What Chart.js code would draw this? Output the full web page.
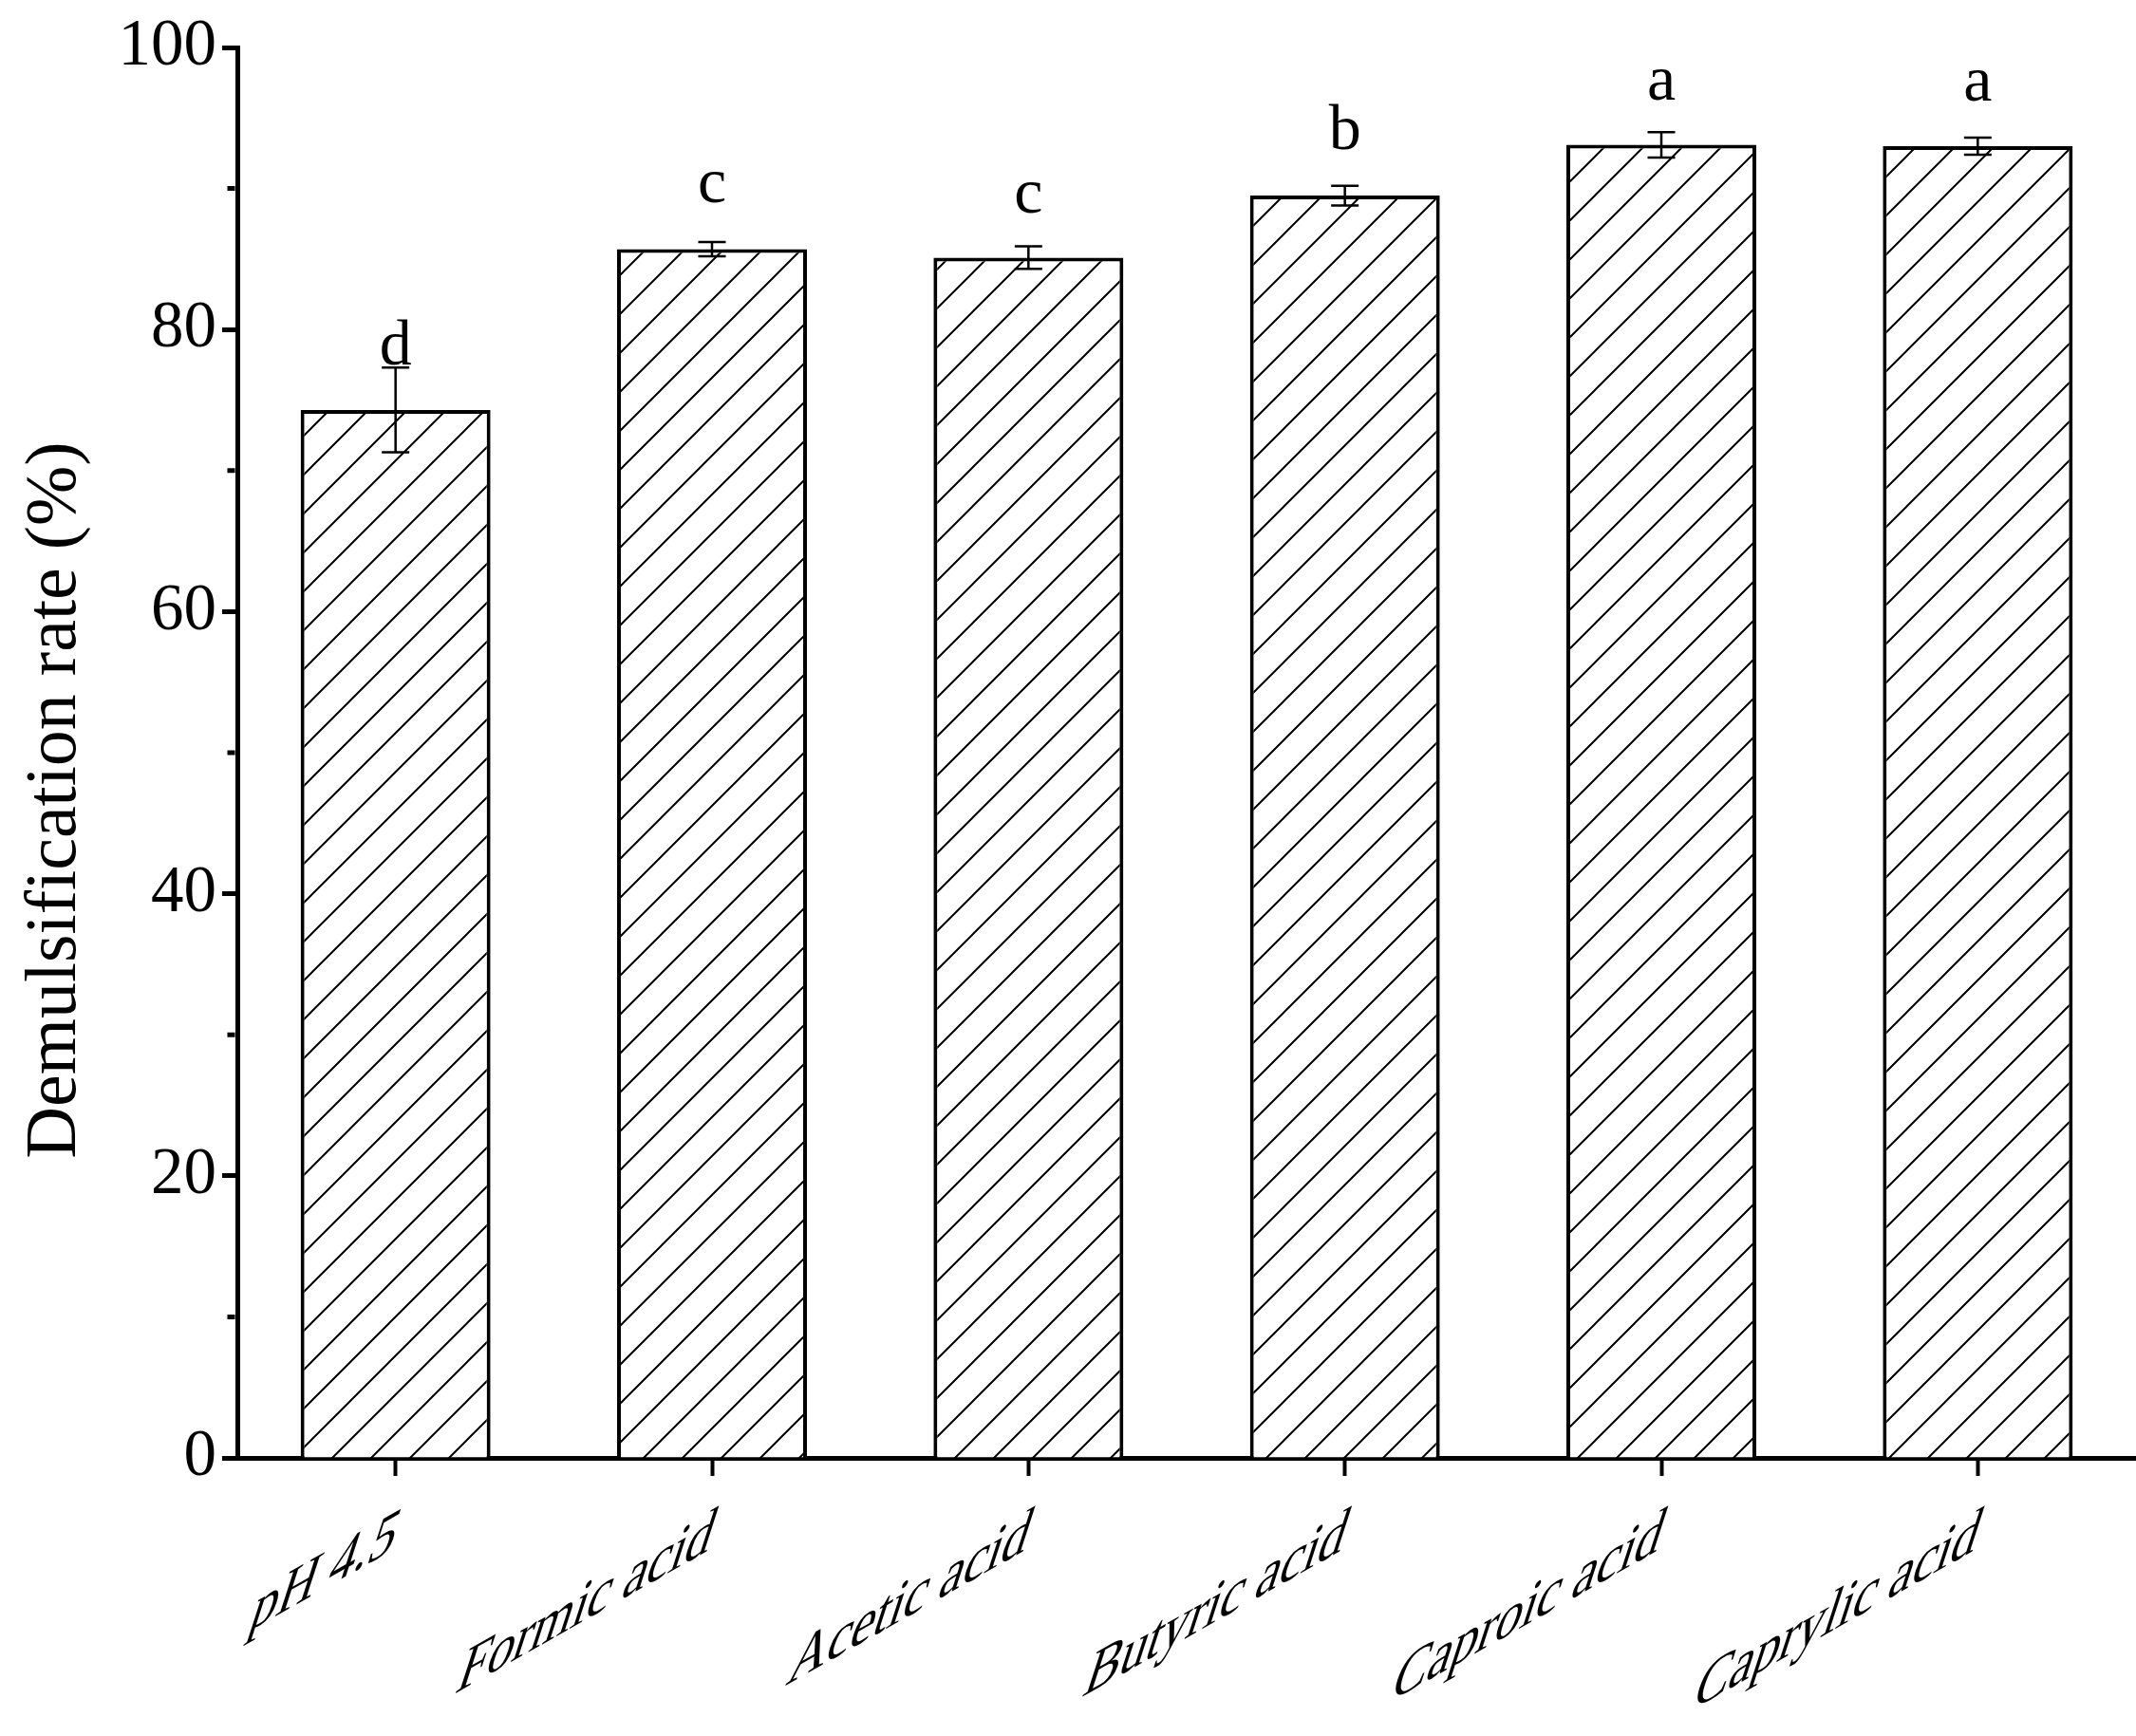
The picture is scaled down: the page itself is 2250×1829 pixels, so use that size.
<!DOCTYPE html>
<html>
<head>
<meta charset="utf-8">
<script src="https://cdn.jsdelivr.net/npm/chart.js@4.4.0/dist/chart.umd.min.js"></script>
<style>
html,body{margin:0;padding:0;background:#fff}
#wrap{width:2250px;height:1829px}
</style>
</head>
<body>
<div id="wrap"><canvas id="c" width="2250" height="1829"></canvas></div>
<script>
const categories = ['pH 4.5', 'Formic acid', 'Acetic acid', 'Butyric acid', 'Caproic acid', 'Caprylic acid'];
const rates = [74.3, 85.7, 85.1, 89.5, 93.1, 93.0];
const errors = [3.0, 0.5, 0.8, 0.7, 0.9, 0.6];
const letters = ['d', 'c', 'c', 'b', 'a', 'a'];
const letterLevels = [77.5, 89.0, 88.3, 92.8, 96.3, 96.2];
const yMajorTicks = [0, 20, 40, 60, 80, 100];
const yMinorTicks = [10, 30, 50, 70, 90];
const yTitle = 'Demulsification rate (%)';

const SERIF = "'Liberation Serif','Times New Roman',serif";

function makeHatch() {
  const s = 41;
  const cv = document.createElement('canvas');
  cv.width = s; cv.height = s;
  const g = cv.getContext('2d');
  g.fillStyle = '#fff';
  g.fillRect(0, 0, s, s);
  g.strokeStyle = '#000';
  g.lineWidth = 2;
  g.beginPath();
  for (const o of [-s, 0, s]) {
    g.moveTo(o - 3, s + 3);
    g.lineTo(o + s + 3, -3);
  }
  g.stroke();
  return g.createPattern(cv, 'repeat');
}

const decorPlugin = {
  id: 'decor',
  afterDatasetsDraw(chart) {
    const ctx = chart.ctx;
    const y = chart.scales.y;
    const meta = chart.getDatasetMeta(0);
    ctx.save();
    ctx.strokeStyle = '#000';
    ctx.lineWidth = 2.5;
    meta.data.forEach((bar, i) => {
      const yt = y.getPixelForValue(rates[i] + errors[i]);
      const yb = y.getPixelForValue(rates[i] - errors[i]);
      const x = bar.x;
      const cap = 14.5;
      ctx.beginPath();
      ctx.moveTo(x, yt); ctx.lineTo(x, yb);
      ctx.moveTo(x - cap, yt); ctx.lineTo(x + cap, yt);
      ctx.moveTo(x - cap, yb); ctx.lineTo(x + cap, yb);
      ctx.stroke();
    });
    ctx.fillStyle = '#000';
    ctx.font = '68px ' + SERIF;
    ctx.textAlign = 'center';
    ctx.textBaseline = 'alphabetic';
    meta.data.forEach((bar, i) => {
      ctx.fillText(letters[i], bar.x, y.getPixelForValue(letterLevels[i]));
    });
    ctx.restore();
  },
  afterDraw(chart) {
    const ctx = chart.ctx;
    const y = chart.scales.y;
    const x = chart.scales.x;
    ctx.save();
    ctx.strokeStyle = '#000';
    ctx.lineWidth = 5;
    ctx.beginPath();
    const x0 = y.right - 2.5;
    yMinorTicks.forEach(v => {
      const py = y.getPixelForValue(v);
      ctx.moveTo(x0, py); ctx.lineTo(x0 - 8, py);
    });
    ctx.stroke();
    ctx.fillStyle = '#000';
    ctx.font = '62px ' + SERIF;
    ctx.textAlign = 'right';
    ctx.textBaseline = 'alphabetic';
    const th = 29.5 * Math.PI / 180, ph = 72 * Math.PI / 180;
    const s1 = 1.03, s2 = 1.22;
    categories.forEach((lab, i) => {
      const px = x.getPixelForTick(i);
      ctx.save();
      ctx.translate(px - 5, x.top + 98);
      ctx.transform(s1 * Math.cos(th), -s1 * Math.sin(th), -s2 * Math.cos(ph), s2 * Math.sin(ph), 0, 0);
      ctx.fillText(lab, 0, 0);
      ctx.restore();
    });
    ctx.save();
    ctx.font = '76px ' + SERIF;
    ctx.textAlign = 'center';
    ctx.textBaseline = 'middle';
    const ca = chart.chartArea;
    ctx.translate(59, ca.top + ca.height * 0.5337);
    ctx.rotate(-Math.PI / 2);
    ctx.fillText(yTitle, 0, 0);
    ctx.restore();
    ctx.restore();
  }
};

new Chart(document.getElementById('c'), {
  type: 'bar',
  data: {
    labels: categories,
    datasets: [{
      data: rates,
      backgroundColor: makeHatch(),
      borderColor: '#000',
      borderWidth: 4,
      borderSkipped: 'start',
      barPercentage: 0.6,
      categoryPercentage: 1.0
    }]
  },
  options: {
    responsive: false,
    animation: false,
    layout: { padding: { top: 50, right: 0, bottom: 0, left: 0 } },
    plugins: { legend: { display: false }, tooltip: { enabled: false }, title: { display: false } },
    scales: {
      x: {
        type: 'category',
        offset: true,
        grid: { display: true, drawOnChartArea: false, drawTicks: true, tickLength: 19, tickWidth: 4, tickColor: '#000', offset: false },
        border: { display: true, width: 5, color: '#000' },
        ticks: { display: false },
        afterFit(scale) { scale.height = 293; }
      },
      y: {
        min: 0,
        max: 100,
        grid: { display: true, drawOnChartArea: false, drawTicks: true, tickLength: 16, tickWidth: 5, tickColor: '#000' },
        border: { display: true, width: 5, color: '#000' },
        ticks: { color: '#000', font: { family: SERIF, size: 69 }, padding: 6 },
        afterBuildTicks(scale) { scale.ticks = yMajorTicks.map(v => ({ value: v })); },
        afterFit(scale) { scale.width = 250; }
      }
    }
  },
  plugins: [decorPlugin]
});
</script>
</body>
</html>
